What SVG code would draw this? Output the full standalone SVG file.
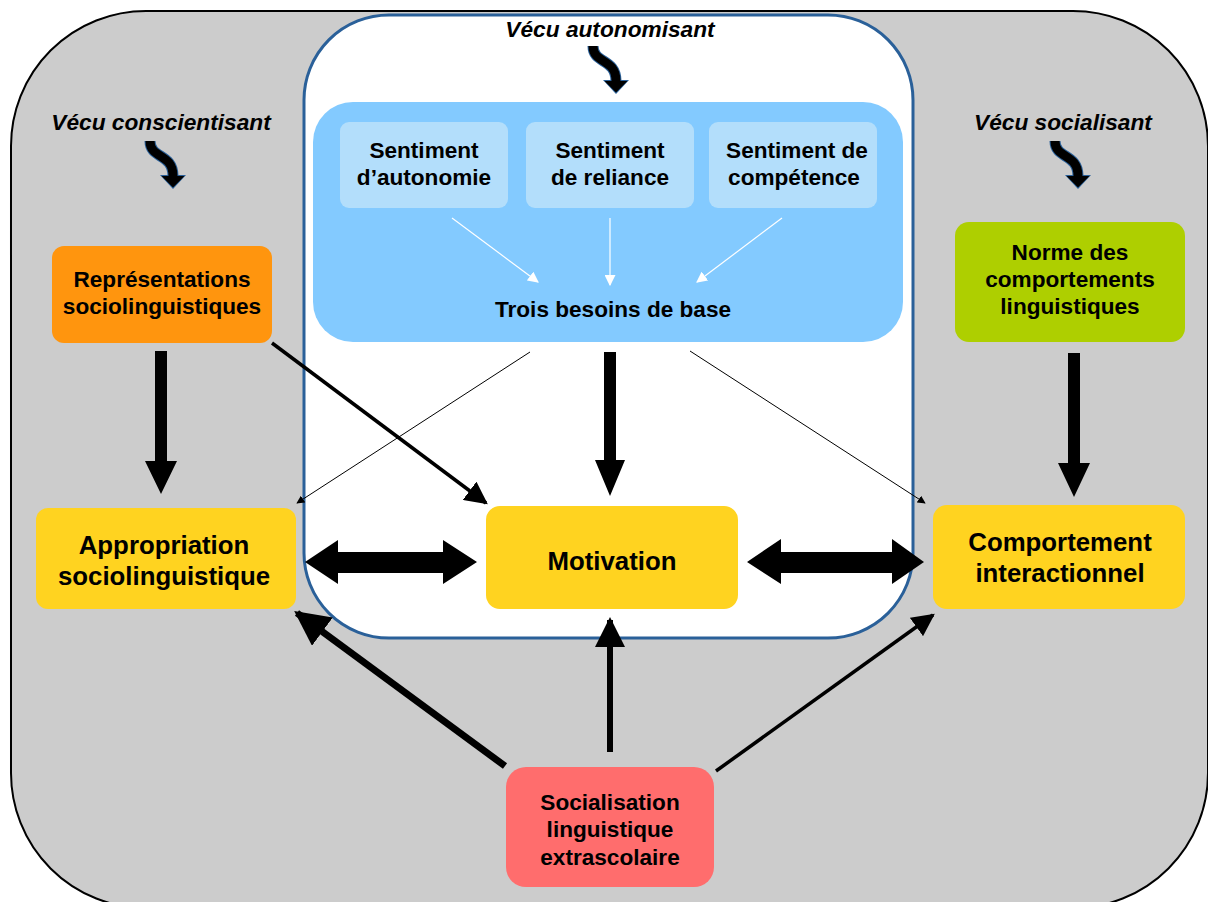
<svg xmlns="http://www.w3.org/2000/svg" width="1208" height="902" viewBox="0 0 1208 902">
<defs>
<style>
text{font-family:"Liberation Sans",Arial,sans-serif;font-weight:bold;fill:#000;text-anchor:middle}
.it{font-style:italic;font-size:22.7px}
.t20{font-size:22.6px}
.t24{font-size:25.8px}
.sm{fill:#b3defb}
.y{fill:#ffd320}
.ln{stroke:#000;fill:none}
.wl{stroke:#fff;stroke-width:1.2;fill:none}
</style>
<marker id="ah" viewBox="0 0 10 10" refX="9" refY="5" markerWidth="8" markerHeight="8" markerUnits="userSpaceOnUse" orient="auto"><path d="M0,0 L10,5 L0,10 z" fill="#000"/></marker>
<marker id="ahw" viewBox="0 0 10 10" refX="9" refY="5" markerWidth="11" markerHeight="11" markerUnits="userSpaceOnUse" orient="auto"><path d="M0,0 L10,5 L0,10 z" fill="#fff"/></marker>
<marker id="ah3" viewBox="0 0 10 10" refX="9" refY="5" markerWidth="6.5" markerHeight="6.5" orient="auto"><path d="M0,0 L10,5 L0,10 z" fill="#000"/></marker>
<marker id="ah6" viewBox="0 0 10 10" refX="9" refY="5" markerWidth="5" markerHeight="5" orient="auto"><path d="M0,0 L10,5 L0,10 z" fill="#000"/></marker>
<g id="curl">
<path d="M593,46 C593,64 616,58 616,81" stroke="#2a6099" stroke-width="11" fill="none"/>
<polygon points="603,80 629,80 616,94" fill="#2a6099"/>
<path d="M593,46 C593,64 616,58 616,81" stroke="#000" stroke-width="9" fill="none"/>
<polygon points="604.5,81 627.5,81 616,92.5" fill="#000"/>
</g>
</defs>

<g id="background">
<rect x="11" y="11" width="1197" height="897" rx="135" ry="135" fill="#cccccc" stroke="#000" stroke-width="2"/>
<rect x="304" y="15" width="609" height="623" rx="85" ry="85" fill="#fff" stroke="#2a6099" stroke-width="3"/>
</g>

<g id="vecu-autonomisant">
<text class="it" x="610" y="37">Vécu autonomisant</text>
<use href="#curl"/>
</g>
<g id="vecu-conscientisant">
<text class="it" x="161" y="130">Vécu conscientisant</text>
<use href="#curl" transform="translate(-443,95)"/>
</g>
<g id="vecu-socialisant">
<text class="it" x="1063" y="130">Vécu socialisant</text>
<use href="#curl" transform="translate(462,95)"/>
</g>

<g id="trois-besoins">
<rect x="313" y="102" width="590" height="240" rx="40" ry="40" fill="#83caff"/>
<text class="t20" x="613" y="317">Trois besoins de base</text>
</g>
<g id="sentiment-autonomie">
<rect class="sm" x="340" y="122" width="168" height="86" rx="9"/>
<text class="t20" x="424" y="158">Sentiment</text>
<text class="t20" x="424" y="185">d’autonomie</text>
</g>
<g id="sentiment-reliance">
<rect class="sm" x="526" y="122" width="168" height="86" rx="9"/>
<text class="t20" x="610" y="158">Sentiment</text>
<text class="t20" x="610" y="185">de reliance</text>
</g>
<g id="sentiment-competence">
<rect class="sm" x="709" y="122" width="168" height="86" rx="9"/>
<text class="t20" x="797" y="158">Sentiment de</text>
<text class="t20" x="794" y="185">compétence</text>
</g>

<g id="representations">
<rect x="52" y="246" width="220" height="97" rx="12" fill="#ff950e"/>
<text class="t20" x="162" y="287">Représentations</text>
<text class="t20" x="162" y="314">sociolinguistiques</text>
</g>
<g id="norme">
<rect x="955" y="222" width="230" height="120" rx="14" fill="#aecf00"/>
<text class="t20" x="1070" y="260">Norme des</text>
<text class="t20" x="1070" y="287">comportements</text>
<text class="t20" x="1070" y="314">linguistiques</text>
</g>
<g id="appropriation">
<rect class="y" x="36" y="508" width="260" height="101" rx="12"/>
<text class="t24" x="164" y="554">Appropriation</text>
<text class="t24" x="164" y="585">sociolinguistique</text>
</g>
<g id="motivation">
<rect class="y" x="486" y="506" width="252" height="103" rx="14"/>
<text class="t24" x="612" y="570">Motivation</text>
</g>
<g id="comportement">
<rect class="y" x="933" y="505" width="252" height="104" rx="14"/>
<text class="t24" x="1060" y="551">Comportement</text>
<text class="t24" x="1060" y="582">interactionnel</text>
</g>
<g id="socialisation">
<rect x="506" y="767" width="208" height="120" rx="20" fill="#ff6d6d"/>
<text class="t20" x="610" y="810">Socialisation</text>
<text class="t20" x="610" y="837">linguistique</text>
<text class="t20" x="610" y="865">extrascolaire</text>
</g>

<g id="connectors">
<line class="wl" x1="452" y1="218" x2="538" y2="282" marker-end="url(#ahw)"/>
<line class="wl" x1="610" y1="218" x2="610" y2="285" marker-end="url(#ahw)"/>
<line class="wl" x1="782" y1="218" x2="697" y2="282" marker-end="url(#ahw)"/>

<polygon points="155,351 167,351 167,461 177,461 161,494 145,461 155,461" fill="#000"/>
<polygon points="1068,353 1080,353 1080,463 1090,463 1074,497 1058,463 1068,463" fill="#000"/>
<polygon points="604,352 616,352 616,460 625,460 610,496 595,460 604,460" fill="#000"/>

<line class="ln" x1="272" y1="343" x2="486" y2="503" stroke-width="3.5" marker-end="url(#ah3)"/>
<line class="ln" x1="530" y1="352" x2="297" y2="503" stroke-width="1" marker-end="url(#ah)"/>
<line class="ln" x1="690" y1="351" x2="925" y2="503" stroke-width="1" marker-end="url(#ah)"/>

<polygon points="305,562 338,540 338,552 443,552 443,540 477,562 443,584 443,573 338,573 338,584" fill="#000"/>
<polygon points="747,562 781,539 781,552 892,552 892,539 924,562 892,584 892,573 781,573 781,584" fill="#000"/>

<line class="ln" x1="505" y1="766" x2="297" y2="613" stroke-width="7" marker-end="url(#ah6)"/>
<line class="ln" x1="610" y1="752" x2="610" y2="620" stroke-width="6" marker-end="url(#ah6)"/>
<line class="ln" x1="716" y1="771" x2="933" y2="615" stroke-width="3.5" marker-end="url(#ah3)"/>
</g>
</svg>
